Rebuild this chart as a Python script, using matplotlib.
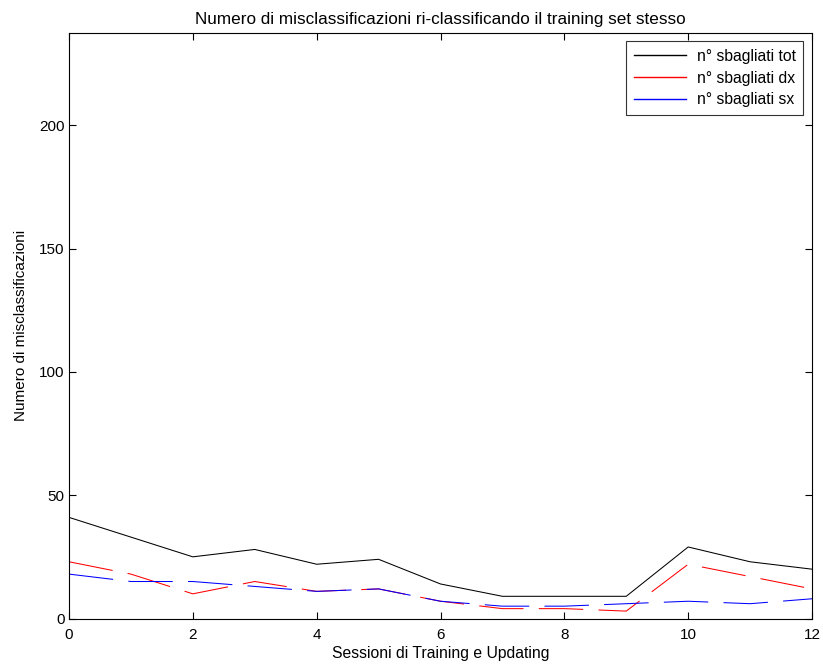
import matplotlib
matplotlib.use("Agg")
import matplotlib.pyplot as plt

plt.rcParams['font.family'] = ['Liberation Sans', 'DejaVu Sans']
plt.rcParams['lines.scale_dashes'] = False

sessions = list(range(13))
wrong_tot = [41, 33, 25, 28, 22, 24, 14, 9, 9, 9, 29, 23, 20]
wrong_dx = [23, 18, 10, 15, 11, 12, 7, 4, 4, 3, 22, 17, 12]
wrong_sx = [18, 15, 15, 13, 11, 12, 7, 5, 5, 6, 7, 6, 8]

FS = 11

fig = plt.figure(figsize=(8.23, 6.66), dpi=100)
ax = fig.add_axes([69 / 823, 1 - 618.5 / 666, (812 - 69) / 823, (618.5 - 32.5) / 666])

ax.plot(sessions, wrong_tot, color='black', lw=0.75, label='n° sbagliati tot')
ax.plot(sessions, wrong_dx, color='red', lw=0.75, linestyle=(0, (32, 11)),
        label='n° sbagliati dx')
ax.plot(sessions, wrong_sx, color='blue', lw=0.75, linestyle=(0, (32, 11)),
        label='n° sbagliati sx')

ax.set_xlim(0, 12)
ax.set_ylim(0, 237.6)
ax.set_xticks(range(0, 13, 2))
ax.set_yticks([0, 50, 100, 150, 200])
ax.tick_params(direction='in', length=5, width=0.8, top=True, right=True,
               labelsize=FS, pad=3)
ax.tick_params(axis='x', pad=7)
for sp in ax.spines.values():
    sp.set_linewidth(0.8)

ax.set_title('Numero di misclassificazioni ri-classificando il training set stesso',
             fontsize=12.3, pad=6)
ax.set_xlabel('Sessioni di Training e Updating', fontsize=11.3, labelpad=3)
ax.set_ylabel('Numero di misclassificazioni', fontsize=FS, labelpad=8)

leg = ax.legend(loc='upper right', fontsize=11.3, frameon=True, fancybox=False,
                edgecolor='black', handlelength=3.3, borderpad=0.5,
                labelspacing=0.42, borderaxespad=0.55, handletextpad=0.7)
leg.get_frame().set_linewidth(0.8)
# short legend samples are drawn as continuous strokes
for handle in leg.get_lines():
    handle.set_linestyle('-')
    handle.set_linewidth(1.0)

fig.savefig('out.png', dpi=100)
